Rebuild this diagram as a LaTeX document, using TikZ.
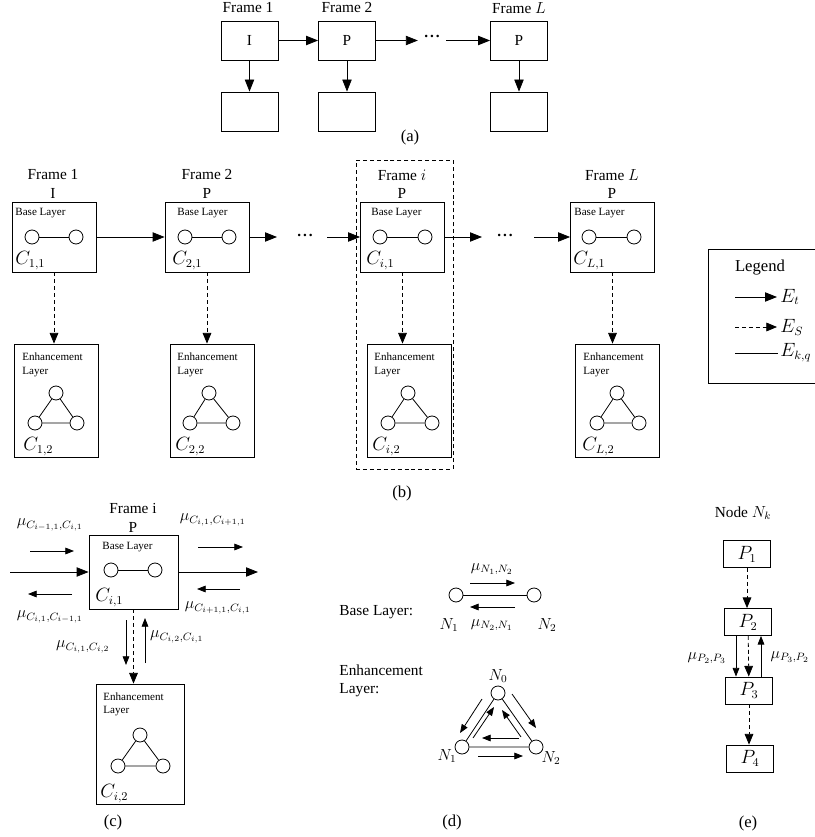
\documentclass[tikz,border=0pt]{standalone}
\usepackage{fontspec}
\setmainfont{Liberation Serif}
\usetikzlibrary{arrows.meta}
\newcommand{\pxu}{0.75pt}
\newcommand{\labfont}{\fontsize{11.5}{13}\selectfont}
\newcommand{\bigfont}{\fontsize{13.5}{15}\selectfont}
\newcommand{\smallfont}{\fontsize{8.3}{10}\selectfont}
\newcommand{\capfont}{\fontsize{12.5}{14}\selectfont}
\newcommand{\threedots}{\textbf{.\hspace{1.5pt}.\hspace{1.5pt}.}}

\begin{document}
\begin{tikzpicture}[x=0.75pt, y=-0.75pt, line width=0.6pt,
    dsh/.style={dash pattern=on 3pt off 2.2pt},
    lab/.style={font=\labfont, inner sep=0pt},
    clab/.style={font=\bigfont, inner sep=0pt, anchor=west},
    tiny/.style={font=\smallfont, inner sep=0pt},
    abox/.style={draw, minimum width=57*\pxu, minimum height=39*\pxu, inner sep=0pt, font=\labfont},
    basebox/.style={draw, minimum width=84*\pxu, minimum height=70*\pxu},
    enhbox/.style={draw, minimum width=84*\pxu, minimum height=113*\pxu},
    pbox/.style={draw, minimum width=47*\pxu, minimum height=27*\pxu, inner sep=0pt, font=\bigfont},
    vtx/.style={draw, circle, minimum size=14*\pxu, inner sep=0pt},
    arr/.style={-{Triangle[length=9pt,width=7pt]}},
    sarr/.style={-{Triangle[length=6.5pt,width=5pt]}},
    darr/.style={dsh, -{Triangle[length=8pt,width=6.5pt]}}]
    \useasboundingbox (0,0) rectangle (814,837);

    % (a) frame types
    \node[abox] (aI) at (249.5,40.5) {I};
    \node[abox] (aP) at (347,40.5) {P};
    \node[abox] (aL) at (519,40.5) {P};
    \node[abox] (aIe) at (249.5,111.5) {};
    \node[abox] (aPe) at (347,111.5) {};
    \node[abox] (aLe) at (519,111.5) {};
    \node[lab] (aF1) at (248,8) {Frame 1};
    \node[lab] (aF2) at (347,8) {Frame 2};
    \node[lab] (aFL) at (519,8) {Frame $L$};
    \node[lab, inner sep=4.5pt] (adots) at (432,36) {\threedots};
    \draw[arr] (aI) -- (aP);
    \draw[arr] (aP.east) -- (aP.east -| adots.west);
    \draw[arr] (aL.west -| adots.east) -- (aL.west);
    \draw[arr] (aI) -- (aIe);
    \draw[arr] (aP) -- (aPe);
    \draw[arr] (aL) -- (aLe);
    \node[font=\capfont] (capa) at (410,137) {(a)};

    % (b) frame i highlight
    \node[draw, dsh, minimum width=97*\pxu, minimum height=309*\pxu] (fi) at (404.5,314.5) {};

    % (b) base layers
    \node[basebox] (b1) at (54,237) {};
    \node[basebox] (b2) at (207,237) {};
    \node[basebox] (bi) at (402.5,237) {};
    \node[basebox] (bL) at (612.5,237) {};
    \node[lab] (bF1) at (53,175) {Frame 1};
    \node[lab] (bT1) at (53,193) {I};
    \node[lab] (bF2) at (207,175) {Frame 2};
    \node[lab] (bT2) at (207,193) {P};
    \node[lab] (bFi) at (402,175) {Frame $i$};
    \node[lab] (bTi) at (402,193) {P};
    \node[lab] (bFL) at (612,175) {Frame $L$};
    \node[lab] (bTL) at (612,193) {P};
    \node[tiny, anchor=west] (b1t) at (15,213) {Base Layer};
    \node[tiny, anchor=west] (b2t) at (177,213) {Base Layer};
    \node[tiny, anchor=west] (bit) at (371,213) {Base Layer};
    \node[tiny, anchor=west] (bLt) at (574,213) {Base Layer};
    \node[vtx] (b1u) at (32,237) {};   \node[vtx] (b1v) at (76,237) {};
    \node[vtx] (b2u) at (185,237) {};  \node[vtx] (b2v) at (229,237) {};
    \node[vtx] (biu) at (380,237) {};  \node[vtx] (biv) at (425,237) {};
    \node[vtx] (bLu) at (589,237) {};  \node[vtx] (bLv) at (634,237) {};
    \draw (b1u) -- (b1v);
    \draw (b2u) -- (b2v);
    \draw (biu) -- (biv);
    \draw (bLu) -- (bLv);
    \node[clab] (b1c) at (15,261) {$C_{1,1}$};
    \node[clab] (b2c) at (172,261) {$C_{2,1}$};
    \node[clab] (bic) at (366,261) {$C_{i,1}$};
    \node[clab] (bLc) at (573,261) {$C_{L,1}$};

    % (b) enhancement layers
    \node[enhbox] (e1) at (56,400.5) {};
    \node[enhbox] (e2) at (212,400.5) {};
    \node[enhbox] (ei) at (409,400.5) {};
    \node[enhbox] (eL) at (617,400.5) {};
    \node[tiny, anchor=west] (e1t) at (22,357) {Enhancement};
    \node[tiny, anchor=west] (e1s) at (22,372) {Layer};
    \node[tiny, anchor=west] (e2t) at (177,357) {Enhancement};
    \node[tiny, anchor=west] (e2s) at (177,372) {Layer};
    \node[tiny, anchor=west] (eit) at (374,357) {Enhancement};
    \node[tiny, anchor=west] (eis) at (374,372) {Layer};
    \node[tiny, anchor=west] (eLt) at (583,357) {Enhancement};
    \node[tiny, anchor=west] (eLs) at (583,372) {Layer};
    \node[vtx] (e1a) at (56,393) {};  \node[vtx] (e1b) at (35,423) {};  \node[vtx] (e1c) at (77,423) {};
    \node[vtx] (e2a) at (209,393) {}; \node[vtx] (e2b) at (190,423) {}; \node[vtx] (e2c) at (233,423) {};
    \node[vtx] (eia) at (408,393) {}; \node[vtx] (eib) at (388,423) {}; \node[vtx] (eic) at (432,423) {};
    \node[vtx] (eLa) at (617,393) {}; \node[vtx] (eLb) at (597,423) {}; \node[vtx] (eLc) at (639,423) {};
    \draw (e1a) -- (e1b) -- (e1c) -- (e1a);
    \draw (e2a) -- (e2b) -- (e2c) -- (e2a);
    \draw (eia) -- (eib) -- (eic) -- (eia);
    \draw (eLa) -- (eLb) -- (eLc) -- (eLa);
    \node[clab] (e1cl) at (23,447) {$C_{1,2}$};
    \node[clab] (e2cl) at (175,447) {$C_{2,2}$};
    \node[clab] (eicl) at (372,447) {$C_{i,2}$};
    \node[clab] (eLcl) at (582,447) {$C_{L,2}$};

    % (b) arrows
    \coordinate (b2out) at (277,237);
    \coordinate (biin) at (327,237);
    \coordinate (biout) at (482,237);
    \coordinate (bLin) at (534,237);
    \node[lab] (bdots1) at (305,235) {\threedots};
    \node[lab] (bdots2) at (505,235) {\threedots};
    \draw[arr] (b1) -- (b2);
    \draw[arr] (b2.east) -- (b2out);
    \draw[arr] (biin) -- (bi.west);
    \draw[arr] (bi.east) -- (biout);
    \draw[arr] (bLin) -- (bL.west);
    \draw[darr] (b1.south) -- (b1.south |- e1.north);
    \draw[darr] (b2.south) -- (b2.south |- e2.north);
    \draw[darr] (bi.south) -- (bi.south |- ei.north);
    \draw[darr] (bL.south) -- (bL.south |- eL.north);
    \node[font=\capfont] (capb) at (402,493) {(b)};

    % legend
    \node[draw, anchor=north west, minimum width=130*\pxu, minimum height=134*\pxu] (leg) at (708,249) {};
    \node[lab, font=\capfont] (legt) at (760,268) {Legend};
    \coordinate (lg1a) at (735,297); \coordinate (lg1b) at (777,297);
    \coordinate (lg2a) at (735,327); \coordinate (lg2b) at (777,327);
    \coordinate (lg3a) at (735,353); \coordinate (lg3b) at (778,353);
    \draw[arr] (lg1a) -- (lg1b);
    \draw[darr] (lg2a) -- (lg2b);
    \draw (lg3a) -- (lg3b);
    \node[clab] (lgEt) at (780,297) {$E_t$};
    \node[clab] (lgEs) at (780,327) {$E_S$};
    \node[clab] (lgEk) at (780,353) {$E_{k,q}$};

    % (c) one frame with its messages
    \node[lab] (cF) at (133,508) {Frame i};
    \node[lab] (cT) at (133,527) {P};
    \node[draw, minimum width=89*\pxu, minimum height=74*\pxu] (cb) at (133.5,572) {};
    \node[tiny] (cbt) at (127.5,547) {Base Layer};
    \node[vtx] (cbu) at (111,570) {};
    \node[vtx] (cbv) at (155,570) {};
    \draw (cbu) -- (cbv);
    \node[clab] (cbc) at (95,598) {$C_{i,1}$};
    \node[draw, minimum width=88*\pxu, minimum height=120*\pxu] (ce) at (140,744) {};
    \node[tiny, anchor=west] (cet) at (103,697) {Enhancement};
    \node[tiny, anchor=west] (ces) at (103,711) {Layer};
    \node[vtx] (cea) at (140,735) {};
    \node[vtx] (ceb) at (118,766) {};
    \node[vtx] (cec) at (163,766) {};
    \draw (cea) -- (ceb) -- (cec) -- (cea);
    \node[clab] (cec2) at (100,794) {$C_{i,2}$};
    \coordinate (cin) at (10,572);
    \coordinate (cout) at (258,572);
    \draw[arr] (cin) -- (cb.west);
    \draw[arr] (cb.east) -- (cout);
    \draw[darr] (cb.south) -- (cb.south |- ce.north);
    % (c) message arrows
    \coordinate (m1a) at (30,551);  \coordinate (m1b) at (74,551);
    \coordinate (m2a) at (72,594);  \coordinate (m2b) at (28,594);
    \coordinate (m3a) at (198,547); \coordinate (m3b) at (243,547);
    \coordinate (m4a) at (240,589); \coordinate (m4b) at (197,589);
    \coordinate (m5a) at (126,620); \coordinate (m5b) at (126,665);
    \coordinate (m6a) at (145,663); \coordinate (m6b) at (145,618);
    \draw[sarr] (m1a) -- (m1b);
    \draw[sarr] (m2a) -- (m2b);
    \draw[sarr] (m3a) -- (m3b);
    \draw[sarr] (m4a) -- (m4b);
    \draw[sarr] (m5a) -- (m5b);
    \draw[sarr] (m6a) -- (m6b);
    \node[lab] (m1) at (50,525) {$\mu_{C_{i-1,1},C_{i,1}}$};
    \node[lab] (m2) at (50,617) {$\mu_{C_{i,1},C_{i-1,1}}$};
    \node[lab] (m3) at (213,520) {$\mu_{C_{i,1},C_{i+1,1}}$};
    \node[lab] (m4) at (218,608) {$\mu_{C_{i+1,1},C_{i,1}}$};
    \node[lab] (m5) at (83,647) {$\mu_{C_{i,1},C_{i,2}}$};
    \node[lab] (m6) at (177,637) {$\mu_{C_{i,2},C_{i,1}}$};
    \node[font=\capfont] (capc) at (113,822) {(c)};

    % (d) message pairs
    \node[lab, anchor=west] (dbt) at (339,612) {Base Layer:};
    \node[vtx] (dN1) at (456,595) {};
    \node[vtx] (dN2) at (534,595) {};
    \draw (dN1) -- (dN2);
    \node[lab] (dN1l) at (449,625) {$N_1$};
    \node[lab] (dN2l) at (547,625) {$N_2$};
    \coordinate (d1a) at (470,583); \coordinate (d1b) at (515,583);
    \coordinate (d2a) at (515,607); \coordinate (d2b) at (470,607);
    \draw[sarr] (d1a) -- (d1b);
    \draw[sarr] (d2a) -- (d2b);
    \node[lab] (d12) at (492,569) {$\mu_{N_1,N_2}$};
    \node[lab] (d21) at (492,625) {$\mu_{N_2,N_1}$};
    \node[lab, anchor=west] (det) at (339,670) {Enhancement};
    \node[lab, anchor=west] (des) at (339,690) {Layer:};
    \node[vtx] (dT0) at (498,693) {};
    \node[vtx] (dT1) at (462,747) {};
    \node[vtx] (dT2) at (536,747) {};
    \draw (dT0) -- (dT1) -- (dT2) -- (dT0);
    \node[lab] (dT0l) at (498,676) {$N_0$};
    \node[lab] (dT1l) at (447,756) {$N_1$};
    \node[lab] (dT2l) at (551,758) {$N_2$};
    \coordinate (t1a) at (482,699); \coordinate (t1b) at (460,733);
    \coordinate (t2a) at (473,738); \coordinate (t2b) at (494,707);
    \coordinate (t3a) at (521,737); \coordinate (t3b) at (502,710);
    \coordinate (t4a) at (512,694); \coordinate (t4b) at (536,728);
    \coordinate (t5a) at (519,738); \coordinate (t5b) at (482,738);
    \coordinate (t6a) at (478,756); \coordinate (t6b) at (523,756);
    \draw[sarr] (t1a) -- (t1b);
    \draw[sarr] (t2a) -- (t2b);
    \draw[sarr] (t3a) -- (t3b);
    \draw[sarr] (t4a) -- (t4b);
    \draw[sarr] (t5a) -- (t5b);
    \draw[sarr] (t6a) -- (t6b);
    \node[font=\capfont] (capd) at (452,822) {(d)};

    % (e) packets of one node
    \node[lab] (eN) at (743,513) {Node $N_k$};
    \node[pbox] (P1) at (747,554) {$P_1$};
    \node[pbox] (P2) at (748,622) {$P_2$};
    \node[pbox] (P3) at (749,690.5) {$P_3$};
    \node[pbox] (P4) at (750,758.5) {$P_4$};
    \draw[darr] (P1.south) -- (P1.south |- P2.north);
    \draw[darr] (P2) -- (P3);
    \draw[darr] (P3.south) -- (P3.south |- P4.north);
    \draw[sarr] ([xshift=-12*\pxu]P2.south) -- ([xshift=-12*\pxu]P2.south |- P3.north);
    \draw[sarr] ([xshift=12*\pxu]P3.north) -- ([xshift=12*\pxu]P3.north |- P2.south);
    \node[lab] (p23) at (707,658) {$\mu_{P_2,P_3}$};
    \node[lab] (p32) at (790,657) {$\mu_{P_3,P_2}$};
    \node[font=\capfont] (cape) at (748,823) {(e)};
\end{tikzpicture}
\end{document}
